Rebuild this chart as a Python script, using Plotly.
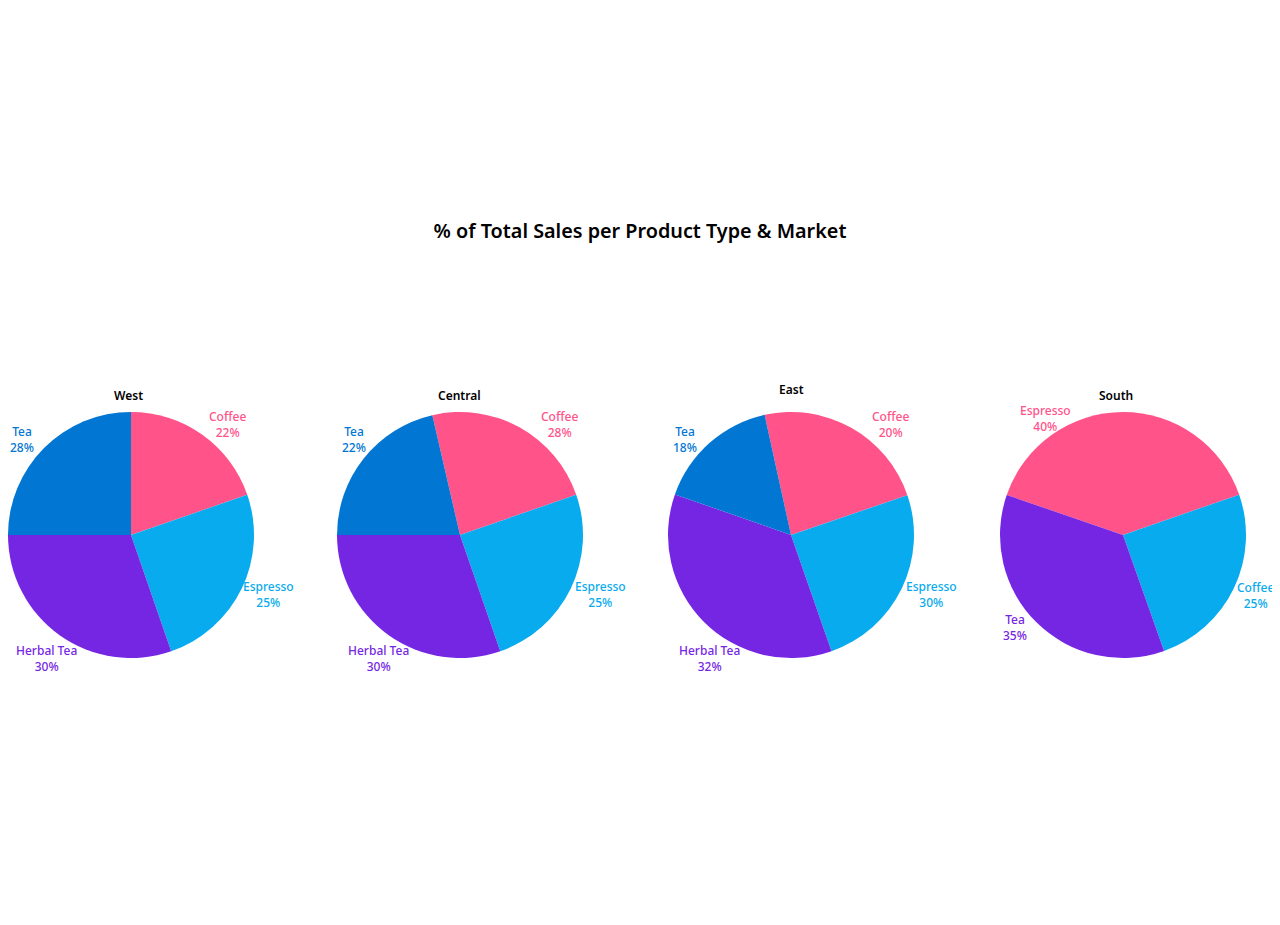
import plotly.graph_objects as go

# slice shares, labels are the percentages printed on the chart
markets = ["West", "Central", "East", "South"]

west_products = ["Coffee", "Espresso", "Herbal Tea", "Tea"]
west_share = [19.7, 25.0, 30.3, 25.0]
west_labels = ["22%", "25%", "30%", "28%"]

central_products = ["Coffee", "Espresso", "Herbal Tea", "Tea"]
central_share = [23.3, 25.0, 30.3, 21.4]
central_labels = ["28%", "25%", "30%", "22%"]

east_products = ["Coffee", "Espresso", "Herbal Tea", "Tea"]
east_share = [23.2, 24.9, 35.7, 16.2]
east_labels = ["20%", "30%", "32%", "18%"]

south_products = ["Espresso", "Coffee", "Tea"]
south_share = [39.4, 24.9, 35.7]
south_labels = ["40%", "25%", "35%"]

colors = ["#FF538A", "#08ABED", "#7526E3", "#0176D3"]

W, H = 1280, 925
OFF = 8  # page offset of the plot div
FONT = "Noto Sans"
R = 123

# label slots around a pie (px from the pie centre), the chart puts them in fixed spots
slots4 = [(99.5, -110.5), (140.5, 59.5), (-81.5, 123), (-106.5, -95.5)]
slots3 = [(-78, -117), (132.5, 60), (-108, 92.5)]

# (centre x px, centre y px, start angle, title x px, title y px, label slots)
pies = [
    (west_products, west_share, west_labels, 128, 535, 0, 128, 396, slots4),
    (central_products, central_share, central_labels, 460, 535, -13, 459, 396, slots4),
    (east_products, east_share, east_labels, 791, 535, -12.4, 791, 389, slots4),
    (south_products, south_share, south_labels, 1123, 535, -71, 1116, 396, slots3),
]


def to_paper(x, y):
    return (x - OFF) / W, 1 - (y - OFF) / H


def note(text, x, y, size, color, weight):
    px, py = to_paper(x, y)
    return dict(text=text, x=px, y=py, xref="paper", yref="paper",
                xanchor="center", yanchor="middle", align="center",
                showarrow=False,
                font=dict(family=FONT, size=size, color=color, weight=weight))


fig = go.Figure()
annotations = []
for name, (prods, share, labs, cx, cy, rot, tx, ty, slots) in zip(markets, pies):
    n = len(prods)
    px, py = cx - OFF, cy - OFF
    x0 = max(0, px - R)
    fig.add_trace(go.Pie(
        labels=prods,
        values=share,
        text=labs,
        textinfo="none",
        marker=dict(colors=colors[:n], line=dict(width=0)),
        sort=False,
        direction="clockwise",
        rotation=rot,
        showlegend=False,
        automargin=False,
        hoverinfo="label+text",
        domain=dict(x=[x0 / W, (x0 + 2 * R) / W],
                    y=[1 - (py + R) / H, 1 - (py - R) / H]),
    ))
    annotations.append(note(name, tx, ty, 12, "#000000", 600))
    for prod, lab, col, (dx, dy) in zip(prods, labs, colors, slots):
        annotations.append(note(f"{prod}<br>{lab}", cx + dx, cy + dy, 12, col, 500))

tx, tyy = to_paper(640, 231)
fig.update_layout(
    width=W, height=H,
    margin=dict(l=0, r=0, t=0, b=0, autoexpand=False),
    paper_bgcolor="white",
    plot_bgcolor="white",
    title=dict(text="% of Total Sales per Product Type & Market",
               x=tx, xanchor="center", y=tyy, yanchor="middle",
               font=dict(family=FONT, size=19.8, color="#000000", weight=600)),
    annotations=annotations,
)

fig.write_html("out.html")
